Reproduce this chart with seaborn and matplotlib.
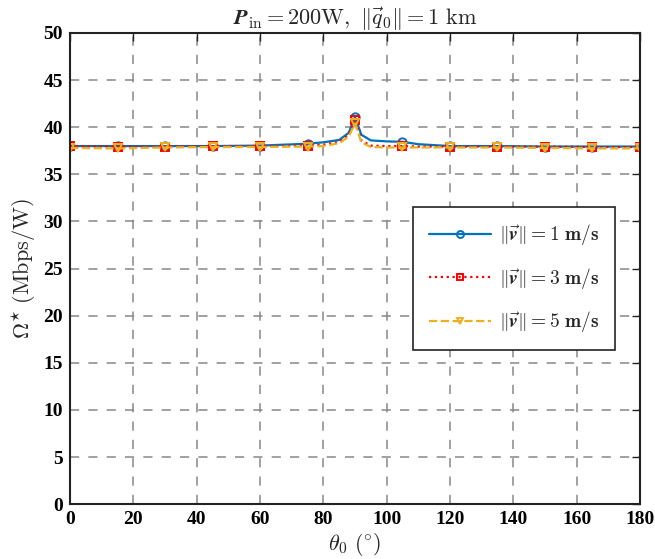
import numpy as np
import pandas as pd
import matplotlib
matplotlib.use("Agg")
import matplotlib.pyplot as plt
import seaborn as sns

# Data
theta = [0, 15, 30, 45, 60, 75, 80, 85, 88, 90, 92, 95, 100, 105, 110, 120, 135, 150, 165, 180]
v1 = [38.0, 38.0, 38.0, 38.0, 38.05, 38.25, 38.4, 38.65, 39.4, 41.1, 39.2, 38.6, 38.5, 38.45, 38.2, 38.0, 38.0, 37.95, 37.95, 37.95]
v3 = [38.0, 37.95, 37.95, 38.0, 38.0, 38.05, 38.15, 38.45, 39.2, 40.8, 38.6, 38.05, 38.0, 38.0, 37.95, 37.95, 37.95, 37.95, 37.9, 37.9]
v5 = [37.8, 37.75, 37.85, 37.9, 37.9, 37.95, 38.0, 38.3, 39.0, 40.4, 38.4, 37.9, 37.85, 37.85, 37.85, 37.85, 37.85, 37.8, 37.75, 37.75]
labels = [r"$\|\vec{\boldsymbol{v}}\| = \mathbf{1\ m/s}$",
          r"$\|\vec{\boldsymbol{v}}\| = \mathbf{3\ m/s}$",
          r"$\|\vec{\boldsymbol{v}}\| = \mathbf{5\ m/s}$"]
xticks = [0, 20, 40, 60, 80, 100, 120, 140, 160, 180]
yticks = [0, 5, 10, 15, 20, 25, 30, 35, 40, 45, 50]

sns.set_style("white")
plt.rcParams['font.family'] = ['Liberation Serif', 'DejaVu Serif']
plt.rcParams['mathtext.fontset'] = 'cm'

fig = plt.figure(figsize=(6.55, 5.59), dpi=100)
ax = fig.add_axes([0.107, 0.098, 0.870, 0.843])

mark_idx = [i for i, t in enumerate(theta) if t % 15 == 0]
styles = [
    dict(color="#0072BD", linestyle="-", marker="o"),
    dict(color="#FF0000", linestyle=":", marker="s"),
    dict(color="#EDB120", linestyle="--", marker="v"),
]
for vals, lab, st in zip([v1, v3, v5], labels, styles):
    df = pd.DataFrame({"theta": theta, "val": vals})
    sns.lineplot(data=df, x="theta", y="val", ax=ax, label=lab,
                 color=st["color"], linestyle=st["linestyle"], marker=st["marker"],
                 markevery=mark_idx, markersize=6, markerfacecolor="none",
                 markeredgecolor=st["color"], markeredgewidth=1.4, linewidth=1.6)

ax.set_xlim(0, 180)
ax.set_ylim(0, 50)
ax.set_xticks(xticks)
ax.set_yticks(yticks)
ax.set_xticklabels([str(t) for t in xticks], fontsize=14, fontweight='bold')
ax.set_yticklabels([str(t) for t in yticks], fontsize=14, fontweight='bold')
ax.grid(True, linestyle=(0, (6, 6)), color="#888888", linewidth=1.1)
ax.tick_params(direction='in', top=True, right=True, length=6, width=1.0, colors='#222222',
               labelcolor='black', pad=5)
for s in ax.spines.values():
    s.set_color('#222222')
    s.set_linewidth(1.5)

ax.set_xlabel(r"$\theta_0\ (^{\circ})$", fontsize=16, labelpad=2)
ax.set_ylabel(r"$\mathbf{\Omega}^{\star}\ ({\rm Mbps/W})$", fontsize=16, labelpad=4)
ax.set_title(r"$\boldsymbol{P}_{\rm in} = 200{\rm W},\ \|\vec{q}_0\| = 1\ {\rm km}$", fontsize=16, pad=6)

leg = ax.legend(loc='upper left', bbox_to_anchor=(0.602, 0.631), borderaxespad=0,
                frameon=True, fancybox=False,
                edgecolor='#222222', framealpha=1, fontsize=14, labelspacing=0.95,
                borderpad=0.8, handlelength=3.2, handletextpad=0.4)
leg.get_frame().set_linewidth(1.2)
for h in leg.legend_handles:
    h.set_markersize(5)

fig.savefig("out.png", dpi=100)
